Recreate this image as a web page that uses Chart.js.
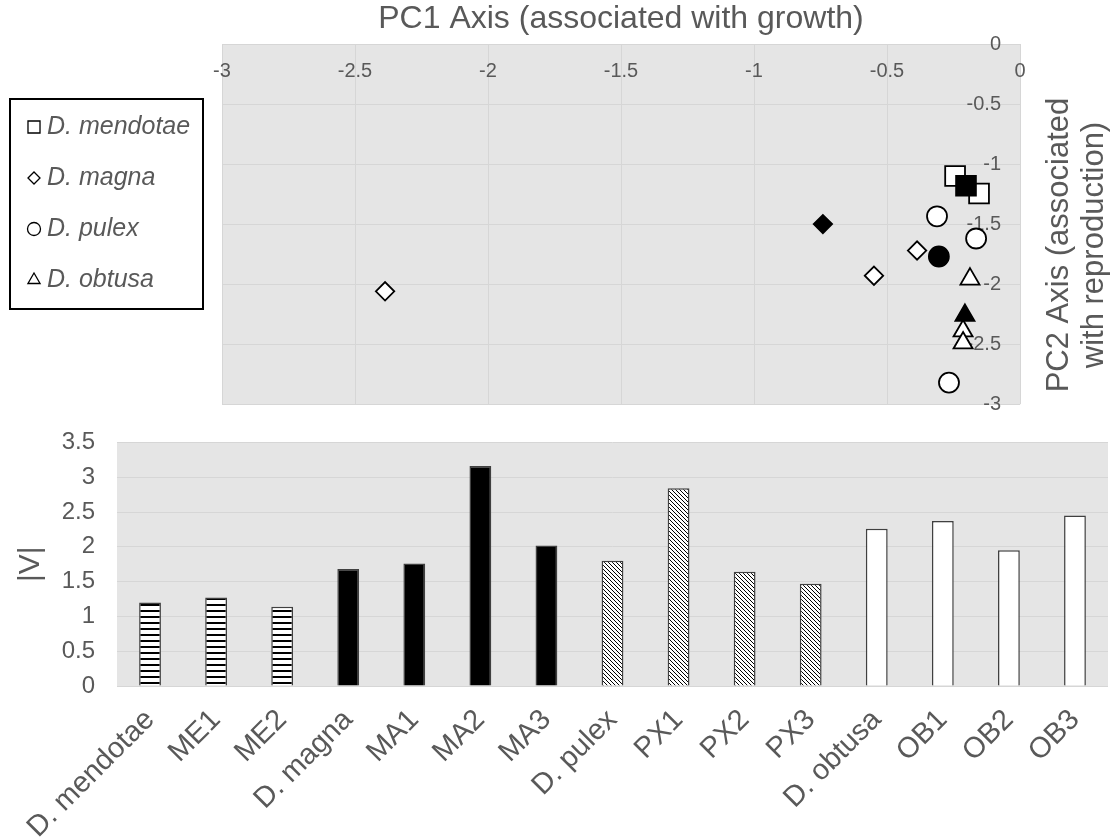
<!DOCTYPE html>
<html>
<head>
<meta charset="utf-8">
<script src="https://cdn.jsdelivr.net/npm/chart.js@4.4.0/dist/chart.umd.min.js"></script>
<style>
  html, body { margin: 0; padding: 0; background: #fff; }
  #wrap { position: relative; width: 1115px; height: 840px; }
  #pcaBox { position: absolute; left: 0; top: 0; width: 1115px; height: 420px; }
  #barBox { position: absolute; left: 0; top: 406px; width: 1115px; height: 434px; }
</style>
</head>
<body>
<div id="wrap">
  <div id="pcaBox"><canvas id="pcaChart"></canvas></div>
  <div id="barBox"><canvas id="barChart"></canvas></div>
</div>
<script>
// PCA scores per species: populations first, species mean (filled marker) last
const speciesNames = ['D. mendotae', 'D. magna', 'D. pulex', 'D. obtusa'];
const mendotaePC1 = [-0.244, -0.154, -0.203];
const mendotaePC2 = [-1.10, -1.245, -1.18];
const magnaPC1 = [-0.387, -0.549, -2.387, -0.741];
const magnaPC2 = [-1.72, -1.93, -2.06, -1.50];
const pulexPC1 = [-0.312, -0.165, -0.267, -0.305];
const pulexPC2 = [-1.435, -1.62, -2.82, -1.77];
const obtusaPC1 = [-0.188, -0.214, -0.214, -0.207];
const obtusaPC2 = [-1.958, -2.39, -2.49, -2.26];

// |V| bar chart
const barLabels = ['D. mendotae', 'ME1', 'ME2', 'D. magna', 'MA1', 'MA2', 'MA3',
  'D. pulex', 'PX1', 'PX2', 'PX3', 'D. obtusa', 'OB1', 'OB2', 'OB3'];
const barValues = [1.20, 1.27, 1.14, 1.68, 1.76, 3.16, 2.02, 1.80, 2.84, 1.64, 1.47, 2.26, 2.37, 1.95, 2.45];
const barGroup = ['ME', 'ME', 'ME', 'MA', 'MA', 'MA', 'MA', 'PX', 'PX', 'PX', 'PX', 'OB', 'OB', 'OB', 'OB'];

const FONT = "'Liberation Sans', Arial, sans-serif";
const GREY_TEXT = '#595959';
const GRID = '#d6d6d6';
Chart.defaults.font.family = FONT;
Chart.defaults.color = GREY_TEXT;

const plainNum = v => String(Math.round(v * 10) / 10);

function toPoints(xs, ys) {
  return xs.map((x, i) => ({ x: x, y: ys[i] }));
}

// open markers for populations, black for the species mean (last point)
function fillFor(xs) {
  return xs.map((_, i) => (i === xs.length - 1 ? '#000' : '#fff'));
}

function makePattern(w, h, draw) {
  const c = document.createElement('canvas');
  c.width = w; c.height = h;
  const g = c.getContext('2d');
  g.fillStyle = '#fff';
  g.fillRect(0, 0, w, h);
  g.fillStyle = '#000';
  draw(g);
  return g.createPattern(c, 'repeat');
}

const fills = {
  ME: makePattern(4, 6, g => g.fillRect(0, 0, 4, 2)),
  MA: '#000',
  PX: makePattern(4, 4, g => { for (let i = 0; i < 4; i++) g.fillRect(i, i, 1, 1); }),
  OB: '#fff'
};

const plotBg = {
  id: 'plotBg',
  beforeDraw(chart) {
    const { ctx, chartArea: a } = chart;
    ctx.save();
    ctx.fillStyle = '#e5e5e5';
    ctx.fillRect(a.left, a.top, a.width, a.height);
    ctx.restore();
  }
};

// boxed legend to the left of the scatter plot
const boxLegend = {
  id: 'boxLegend',
  afterDraw(chart, args, opts) {
    const ctx = chart.ctx;
    ctx.save();
    ctx.lineWidth = 2;
    ctx.strokeStyle = '#000';
    ctx.strokeRect(opts.left, opts.top, opts.width, opts.height);
    chart.data.datasets.forEach((ds, i) => {
      const y = opts.firstY + i * opts.rowGap;
      ctx.fillStyle = '#fff';
      ctx.strokeStyle = '#000';
      ctx.lineWidth = 1.3;
      Chart.helpers.drawPoint(ctx, {
        pointStyle: ds.pointStyle, radius: opts.radius[i], rotation: 0, borderWidth: 1.3
      }, opts.markerX, y);
      ctx.fillStyle = GREY_TEXT;
      ctx.font = 'italic 25px ' + FONT;
      ctx.textAlign = 'left';
      ctx.textBaseline = 'middle';
      ctx.fillText(ds.label, opts.textX, y);
    });
    ctx.restore();
  }
};

// right-hand title, reading bottom to top
const sideTitle = {
  id: 'sideTitle',
  afterDraw(chart, args, opts) {
    const ctx = chart.ctx;
    ctx.save();
    ctx.translate(opts.x, opts.y);
    ctx.rotate(-Math.PI / 2);
    ctx.font = '31px ' + FONT;
    ctx.fillStyle = GREY_TEXT;
    ctx.textAlign = 'center';
    ctx.textBaseline = 'middle';
    opts.lines.forEach((t, i) => ctx.fillText(t, 0, i * opts.lineGap));
    ctx.restore();
  }
};

const markerStyles = ['rect', 'rectRot', 'circle', 'triangle'];
const markerRadius = [14, 9.2, 10, 11];
const pcaX = [mendotaePC1, magnaPC1, pulexPC1, obtusaPC1];
const pcaY = [mendotaePC2, magnaPC2, pulexPC2, obtusaPC2];

new Chart(document.getElementById('pcaChart'), {
  type: 'scatter',
  data: {
    datasets: speciesNames.map((name, i) => ({
      label: name,
      data: toPoints(pcaX[i], pcaY[i]),
      pointStyle: markerStyles[i],
      pointRadius: markerRadius[i],
      pointHoverRadius: markerRadius[i],
      pointBackgroundColor: fillFor(pcaX[i]),
      pointBorderColor: '#000',
      pointBorderWidth: 1.8
    }))
  },
  options: {
    responsive: true,
    maintainAspectRatio: false,
    animation: false,
    layout: { padding: { left: 222, right: 95, top: 0, bottom: 15 } },
    plugins: {
      legend: { display: false },
      tooltip: { enabled: false },
      boxLegend: {
        left: 10, top: 99, width: 193, height: 210,
        firstY: 127, rowGap: 51, markerX: 34, textX: 47,
        radius: [8.5, 6, 6.5, 7]
      },
      sideTitle: { x: 1059, y: 245, lineGap: 35, lines: ['PC2 Axis (associated', 'with reproduction)'] }
    },
    scales: {
      x: {
        type: 'linear',
        position: 'top',
        min: -3,
        max: 0,
        ticks: { stepSize: 0.5, font: { size: 20 }, mirror: true, padding: 15, callback: plainNum },
        grid: { color: GRID, drawTicks: false },
        border: { display: false },
        title: {
          display: true,
          text: 'PC1 Axis (associated with growth)',
          font: { size: 32 },
          padding: { top: 0, bottom: 0 }
        },
        afterFit: s => { s.height = 44; }
      },
      y: {
        type: 'linear',
        position: 'right',
        min: -3,
        max: 0,
        ticks: { stepSize: 0.5, mirror: true, padding: -19, font: { size: 20 }, callback: plainNum },
        grid: { color: GRID, drawTicks: false },
        border: { display: false },
        afterFit: s => { s.width = 0; }
      }
    }
  },
  plugins: [plotBg, boxLegend, sideTitle]
});

new Chart(document.getElementById('barChart'), {
  type: 'bar',
  data: {
    labels: barLabels,
    datasets: [{
      data: barValues,
      backgroundColor: barGroup.map(g => fills[g]),
      borderColor: '#404040',
      borderWidth: 1.5,
      barPercentage: 0.33,
      categoryPercentage: 1
    }]
  },
  options: {
    responsive: true,
    maintainAspectRatio: false,
    animation: false,
    layout: { padding: { left: 0, right: 7, top: 0, bottom: 0 } },
    plugins: {
      legend: { display: false },
      tooltip: { enabled: false }
    },
    scales: {
      x: {
        grid: { display: false },
        border: { display: false },
        ticks: { minRotation: 45, maxRotation: 45, autoSkip: false, font: { size: 29 }, padding: 9 },
        afterFit: s => { s.height = 154; }
      },
      y: {
        min: 0,
        max: 3.5,
        ticks: { stepSize: 0.5, font: { size: 24 }, padding: 22, callback: plainNum },
        grid: { color: GRID, drawTicks: false },
        border: { display: false },
        title: { display: true, text: '|V|', font: { size: 30 }, padding: { top: 13, bottom: 0 } },
        afterFit: s => { s.width = 117; }
      }
    }
  },
  plugins: [plotBg]
});
</script>
</body>
</html>
